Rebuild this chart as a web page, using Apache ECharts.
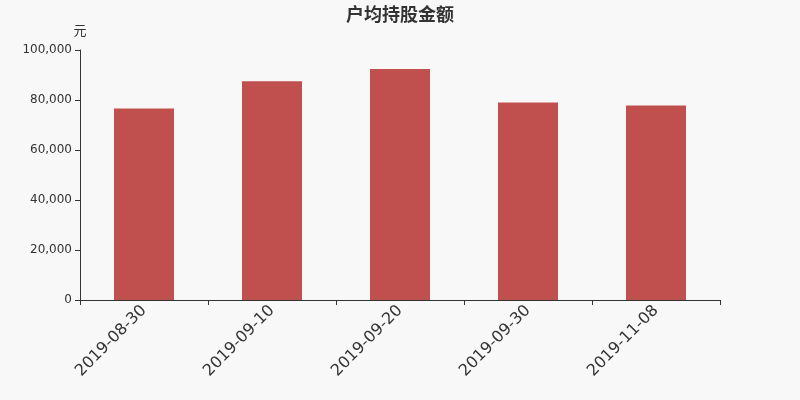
<!DOCTYPE html>
<html>
<head>
<meta charset="utf-8">
<script src="https://cdn.jsdelivr.net/npm/echarts@6/dist/echarts.min.js"></script>
<style>
html,body{margin:0;padding:0;background:#f8f8f8;}
#main{width:800px;height:400px;}
</style>
</head>
<body>
<div id="main"></div>
<script>
var categories = ['2019-08-30', '2019-09-10', '2019-09-20', '2019-09-30', '2019-11-08'];
var values = [76600, 87500, 92400, 79000, 77800];

var myChart = echarts.init(document.getElementById('main'));
myChart.setOption({
    backgroundColor: '#f8f8f8',
    textStyle: { fontFamily: 'DejaVu Sans, Noto Sans CJK SC, sans-serif' },
    title: {
        text: '户均持股金额',
        left: 'center',
        top: 2,
        textStyle: { fontSize: 18, fontWeight: 'bold', color: '#333' }
    },
    grid: { left: 80, right: 80, top: 50, bottom: 100 },
    xAxis: {
        type: 'category',
        data: categories,
        axisLine: { lineStyle: { color: '#333' } },
        axisTick: { show: true, alignWithLabel: false },
        axisLabel: { rotate: 45, fontSize: 16, color: '#333', margin: 8 }
    },
    yAxis: {
        type: 'value',
        name: '元',
        nameGap: 12,
        nameTextStyle: { color: '#333', fontSize: 13, align: 'center' },
        min: 0,
        max: 100000,
        interval: 20000,
        axisLine: { show: true, lineStyle: { color: '#333' } },
        axisTick: { show: true },
        splitLine: { show: false },
        axisLabel: {
            color: '#333',
            fontSize: 12,
            formatter: function (v) { return v.toLocaleString('en-US'); }
        }
    },
    series: [{
        type: 'bar',
        data: values,
        barWidth: 60,
        itemStyle: { color: '#c0504d' }
    }]
});
</script>
</body>
</html>
